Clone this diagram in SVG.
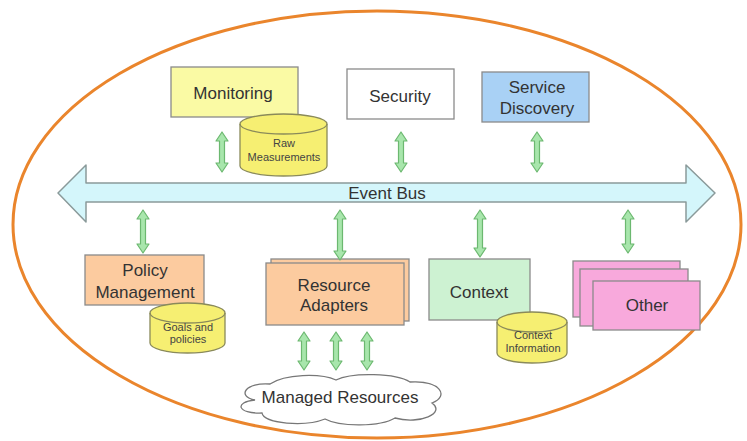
<svg xmlns="http://www.w3.org/2000/svg" width="747" height="441" viewBox="0 0 747 441">
<style>
.box{stroke:#8a8a8a;stroke-width:1.3}
.cyl{fill:#f6ef72;stroke:#8a8a5a;stroke-width:1.3}
.lbl{font-family:"Liberation Sans",Arial,sans-serif;font-size:17px;fill:#333;text-anchor:middle}
.sm{font-family:"Liberation Sans",Arial,sans-serif;font-size:11px;fill:#444;text-anchor:middle}
.dbl{fill:#a8e6ac;stroke:#6cb870;stroke-width:1.2;stroke-linejoin:round}
</style>
<rect width="747" height="441" fill="#fff"/>
<ellipse cx="377" cy="224.5" rx="364" ry="213.5" fill="none" stroke="#ea852c" stroke-width="3"/>

<g id="event-bus">
<path d="M58 193 L86 165 L86 183 L686 183 L686 165 L715 193 L686 222 L686 202 L86 202 L86 222 Z" fill="#d4f6fb" stroke="#8a9a9a" stroke-width="1.5" stroke-linejoin="round"/>
<text class="lbl" x="387" y="199">Event Bus</text>
</g>

<g id="monitoring">
<rect class="box" x="171" y="67" width="127" height="50" fill="#fafaa4"/>
<text class="lbl" x="233" y="99">Monitoring</text>
</g>
<g id="raw-measurements">
<path class="cyl" d="M240 124 A43.5 10 0 0 1 327 124 L327 166 A43.5 10 0 0 1 240 166 Z"/>
<path d="M240 124 A43.5 10 0 0 0 327 124" fill="none" stroke="#8a8a5a" stroke-width="1.3"/>
<text class="sm" x="284" y="147">Raw</text>
<text class="sm" x="284" y="161">Measurements</text>
</g>
<g id="security">
<rect class="box" x="347" y="69" width="107" height="50" fill="#fff"/>
<text class="lbl" x="400" y="102">Security</text>
</g>
<g id="service-discovery">
<rect class="box" x="482" y="72" width="107" height="50" fill="#a9d1f5"/>
<text class="lbl" x="537" y="93">Service</text>
<text class="lbl" x="537" y="114">Discovery</text>
</g>

<g id="policy-management">
<rect class="box" x="85" y="255" width="119" height="50" fill="#fccb9f"/>
<text class="lbl" x="145" y="276">Policy</text>
<text class="lbl" x="145" y="298">Management</text>
</g>
<g id="goals-policies">
<path class="cyl" d="M150 313 A37.5 10 0 0 1 225 313 L225 343 A37.5 10 0 0 1 150 343 Z"/>
<path d="M150 313 A37.5 10 0 0 0 225 313" fill="none" stroke="#8a8a5a" stroke-width="1.3"/>
<text class="sm" x="188" y="331">Goals and</text>
<text class="sm" x="188" y="343">policies</text>
</g>
<g id="resource-adapters">
<rect class="box" x="271" y="259" width="138" height="62" fill="#fccb9f"/>
<rect class="box" x="266" y="263" width="138" height="62" fill="#fccb9f"/>
<text class="lbl" x="334" y="291">Resource</text>
<text class="lbl" x="334" y="311">Adapters</text>
</g>
<g id="context">
<rect class="box" x="429" y="259" width="101" height="61" fill="#cdf2d2"/>
<text class="lbl" x="479" y="298">Context</text>
</g>
<g id="context-information">
<path class="cyl" d="M497 322 A35 10 0 0 1 567 322 L567 353 A35 10 0 0 1 497 353 Z"/>
<path d="M497 322 A35 10 0 0 0 567 322" fill="none" stroke="#8a8a5a" stroke-width="1.3"/>
<text class="sm" x="533" y="339">Context</text>
<text class="sm" x="533" y="352">Information</text>
</g>
<g id="other">
<rect class="box" x="573" y="261" width="107" height="56" fill="#f8a9dc"/>
<rect class="box" x="580" y="269" width="108" height="57" fill="#f8a9dc"/>
<rect class="box" x="593" y="281" width="107" height="49" fill="#f8a9dc"/>
<text class="lbl" x="647" y="311">Other</text>
</g>
<g id="managed-resources">
<path d="M255 400 C236 396 246 382 270 384 C285 374 320 373 336 380 C352 372 396 373 410 382 C440 380 450 396 432 403 C446 413 420 425 395 418 C380 427 340 427 325 419 C305 427 264 424 262 413 C237 414 234 402 255 400 Z" fill="#fff" stroke="#777" stroke-width="1.3"/>
<text class="lbl" x="340" y="403">Managed Resources</text>
</g>

<g id="connectors">
<path class="dbl" d="M222 132 L228 141 L224.5 141 L224.5 163 L228 163 L222 172 L216 163 L219.5 163 L219.5 141 L216 141 Z"/>
<path class="dbl" d="M401 132 L407 141 L403.5 141 L403.5 163 L407 163 L401 172 L395 163 L398.5 163 L398.5 141 L395 141 Z"/>
<path class="dbl" d="M537 132 L543 141 L539.5 141 L539.5 163 L543 163 L537 172 L531 163 L534.5 163 L534.5 141 L531 141 Z"/>
<path class="dbl" d="M143 210 L149 219 L145.5 219 L145.5 244 L149 244 L143 253 L137 244 L140.5 244 L140.5 219 L137 219 Z"/>
<path class="dbl" d="M340 210 L346 219 L342.5 219 L342.5 251 L346 251 L340 260 L334 251 L337.5 251 L337.5 219 L334 219 Z"/>
<path class="dbl" d="M480 210 L486 219 L482.5 219 L482.5 248 L486 248 L480 257 L474 248 L477.5 248 L477.5 219 L474 219 Z"/>
<path class="dbl" d="M628 210 L634 219 L630.5 219 L630.5 244 L634 244 L628 253 L622 244 L625.5 244 L625.5 219 L622 219 Z"/>
<path class="dbl" d="M304 332 L310 341 L306.5 341 L306.5 361 L310 361 L304 370 L298 361 L301.5 361 L301.5 341 L298 341 Z"/>
<path class="dbl" d="M336 332 L342 341 L338.5 341 L338.5 361 L342 361 L336 370 L330 361 L333.5 361 L333.5 341 L330 341 Z"/>
<path class="dbl" d="M367 332 L373 341 L369.5 341 L369.5 361 L373 361 L367 370 L361 361 L364.5 361 L364.5 341 L361 341 Z"/>
</g>
</svg>
